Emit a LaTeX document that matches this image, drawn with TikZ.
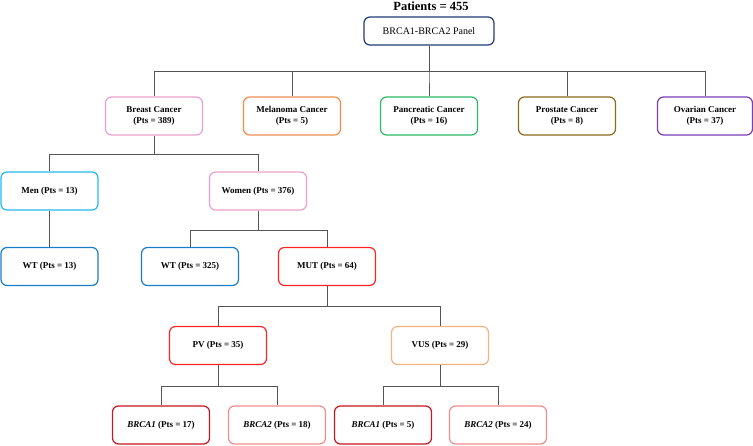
\documentclass[tikz,border=0pt]{standalone}
\usepackage{fontspec}
\setmainfont{Liberation Serif}
\definecolor{cpanel}{HTML}{1F3A78}
\definecolor{cbreast}{HTML}{EC9FCB}
\definecolor{cmel}{HTML}{F08C4E}
\definecolor{cpan}{HTML}{2CB865}
\definecolor{cpro}{HTML}{8A6A1C}
\definecolor{cova}{HTML}{7A3FB4}
\definecolor{cmen}{HTML}{22BAF0}
\definecolor{cwt}{HTML}{1A7DC9}
\definecolor{cmut}{HTML}{FF2424}
\definecolor{cvus}{HTML}{F8B27E}
\definecolor{cbone}{HTML}{C4161C}
\definecolor{cbtwo}{HTML}{F58C8C}
\definecolor{cline}{HTML}{555555}
\tikzset{
  box/.style={draw, rounded corners=6pt, line width=1.2pt, fill=white,
    minimum width=97pt, minimum height=38pt, inner sep=2pt, align=center,
    font=\fontsize{9}{10.5}\selectfont\bfseries},
  conn/.style={draw=cline, line width=0.9pt},
}
\begin{document}
\begin{tikzpicture}[x=1pt,y=-1pt]
\useasboundingbox (0,0) rectangle (753,445);
\node[font=\fontsize{12.5}{14}\selectfont\bfseries] (title) at (431,6) {Patients = 455};
\node[box, draw=cpanel, minimum width=130pt, minimum height=28pt, font=\fontsize{10}{12}\selectfont] (panel) at (429,31) {BRCA1-BRCA2 Panel};
% row 2
\node[box, draw=cbreast] (breast) at (154,116) {Breast Cancer\\(Pts = 389)};
\node[box, draw=cmel] (mel) at (292,116) {Melanoma Cancer\\(Pts = 5)};
\node[box, draw=cpan] (pan) at (429,116) {Pancreatic Cancer\\(Pts = 16)};
\node[box, draw=cpro] (pro) at (567,116) {Prostate Cancer\\(Pts = 8)};
\node[box, draw=cova, minimum width=95pt] (ova) at (705,116) {Ovarian Cancer\\(Pts = 37)};
% row 3
\node[box, draw=cmen] (men) at (49.5,191) {Men (Pts = 13)};
\node[box, draw=cbreast] (women) at (258,191) {Women (Pts = 376)};
% row 4
\node[box, draw=cwt] (wtm) at (49.5,266.5) {WT (Pts = 13)};
\node[box, draw=cwt] (wtw) at (190,266.5) {WT (Pts = 325)};
\node[box, draw=cmut] (mut) at (327,266.5) {MUT (Pts = 64)};
% row 5
\node[box, draw=cmut] (pv) at (218,345.5) {PV (Pts = 35)};
\node[box, draw=cvus] (vus) at (440,345.5) {VUS (Pts = 29)};
% row 6
\node[box, draw=cbone] (pvb1) at (161,425) {\textit{BRCA1} (Pts = 17)};
\node[box, draw=cbtwo] (pvb2) at (277,425) {\textit{BRCA2} (Pts = 18)};
\node[box, draw=cbone] (vusb1) at (383,425) {\textit{BRCA1} (Pts = 5)};
\node[box, draw=cbtwo] (vusb2) at (498,425) {\textit{BRCA2} (Pts = 24)};
% bus levels
\coordinate (busA) at (0,71);
\coordinate (busB) at (0,154);
\coordinate (busC) at (0,230);
\coordinate (busD) at (0,306);
\coordinate (busE) at (0,386);
% connectors
\foreach \c in {breast,mel,pan,pro,ova}
  \draw[conn] (panel.south) -- (panel.south |- busA) -| (\c.north);
\foreach \c in {men,women}
  \draw[conn] (breast.south) -- (breast.south |- busB) -| (\c.north);
\draw[conn] (men.south) -- (wtm.north);
\foreach \c in {wtw,mut}
  \draw[conn] (women.south) -- (women.south |- busC) -| (\c.north);
\foreach \c in {pv,vus}
  \draw[conn] (mut.south) -- (mut.south |- busD) -| (\c.north);
\foreach \c in {pvb1,pvb2}
  \draw[conn] (pv.south) -- (pv.south |- busE) -| (\c.north);
\foreach \c in {vusb1,vusb2}
  \draw[conn] (vus.south) -- (vus.south |- busE) -| (\c.north);
\end{tikzpicture}
\end{document}
